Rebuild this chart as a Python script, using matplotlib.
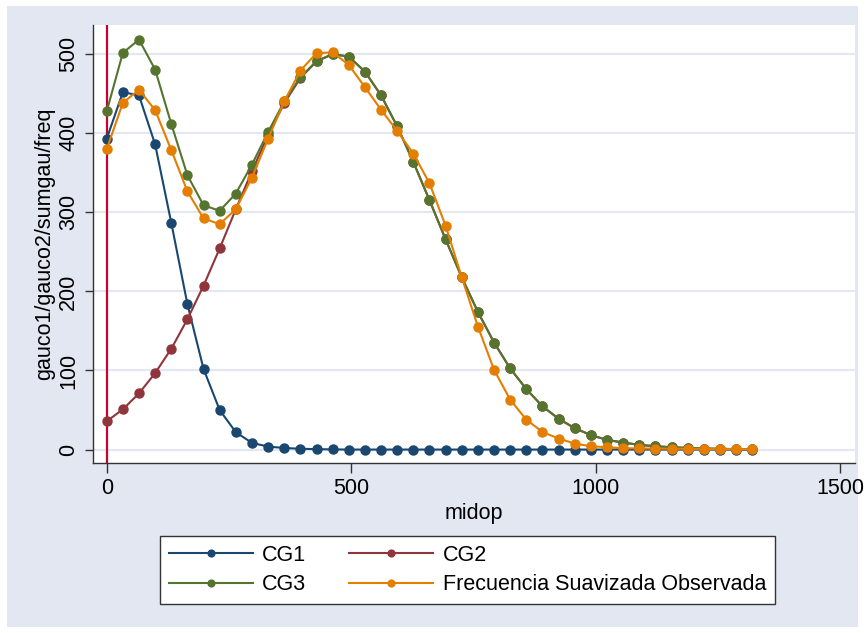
import numpy as np
import matplotlib.pyplot as plt
from matplotlib.patches import Rectangle

plt.rcParams['font.family'] = ['Liberation Sans', 'DejaVu Sans']

# midop points, step 33
midop = [0, 33, 66, 99, 132, 165, 198, 231, 264, 297, 330, 363, 396, 429, 462,
         495, 528, 561, 594, 627, 660, 693, 726, 759, 792, 825, 858, 891, 924,
         957, 990, 1023, 1056, 1089, 1122, 1155, 1188, 1221, 1254, 1287, 1320]

cg1 = [393, 452, 448, 386, 287, 184, 102, 50, 22, 8.4, 3.8, 2, 1, 0.5, 0.2,
       0, 0, 0, 0, 0, 0, 0, 0, 0, 0, 0, 0, 0, 0, 0, 0, 0, 0, 0, 0, 0, 0, 0, 0, 0, 0]
cg2 = [35.7, 50.9, 71, 96.7, 127.4, 164.8, 207.3, 254.4, 304, 352, 397.8, 438,
       470, 491, 500, 497, 478, 448, 408.7, 363.7, 315.4, 265.8, 217.8, 174,
       135.4, 102.6, 76.5, 54.7, 39, 27, 18.3, 12.2, 8.9, 5.9, 4.2, 2.9, 2,
       1.3, 0.9, 0.6, 0.4]
cg3 = [427.7, 501.7, 518.5, 480.7, 412, 347, 309, 302, 323.8, 360.4, 401.6,
       440.3, 471, 491.2, 500.4, 497, 478, 448, 408.7, 363.7, 315.4, 265.8,
       217.8, 174, 135.4, 102.6, 76.5, 54.7, 39, 27, 18.3, 12.2, 8.9, 5.9,
       4.2, 2.9, 2, 1.3, 0.9, 0.6, 0.4]
freq = [379.7, 438.6, 455, 429.4, 378.9, 326.7, 292.3, 285.1, 304, 344, 393.2,
        440.3, 479.4, 501.3, 502.5, 486.5, 458.4, 429.8, 402.9, 374.3, 336.8,
        283, 217.8, 155.6, 100.9, 63.1, 37.8, 22.3, 13.9, 7.6, 4.2, 2.9, 1.8,
        1.4, 1.2, 1, 0.9, 0.8, 0.7, 0.6, 0.5]

names = ['CG1', 'CG2', 'CG3', 'Frecuencia Suavizada Observada']
colors = ['#1a476f', '#90353b', '#55752f', '#e37e00']

fs = 15.5
bg = '#e2e7f1'
fig = plt.figure(figsize=(8.66, 6.33), dpi=100)
fig.patch.set_facecolor('white')
fig.patches.append(Rectangle((7/866, 6/633), 851/866, 621/633, transform=fig.transFigure,
                             facecolor=bg, edgecolor='none', zorder=-10))

ax = fig.add_axes([93/866, 1 - 463/633, 762/866, 438/633])
ax.set_facecolor('white')

lines = []
for ys, c, n in zip([cg1, cg2, cg3, freq], colors, names):
    l, = ax.plot(midop, ys, '-o', color=c, lw=1.5, markersize=6.5, label=n, zorder=3)
    lines.append(l)

ax.axvline(0, color='#c10534', lw=1.6, zorder=2)

ax.set_xlim(-28, 1530)
ax.set_ylim(-17, 537)
ax.set_xticks([0, 500, 1000, 1500])
ax.set_yticks([0, 100, 200, 300, 400, 500])
ax.grid(axis='y', color=bg, lw=1.5, zorder=0)
ax.set_axisbelow(True)
for s in ['top', 'right']:
    ax.spines[s].set_visible(False)
for s in ['left', 'bottom']:
    ax.spines[s].set_color('#333333')
    ax.spines[s].set_linewidth(1)
ax.tick_params(axis='x', direction='out', length=7, width=1, color='#333333',
               labelsize=fs, pad=4)
ax.tick_params(axis='y', direction='out', length=6, width=1, color='#333333',
               labelsize=fs, pad=4)
plt.setp(ax.get_yticklabels(), rotation=90, va='center')
ax.set_xlabel('midop', fontsize=fs, labelpad=3)
ax.set_ylabel('gauco1/gauco2/sumgau/freq', fontsize=fs, labelpad=2)

order = [0, 2, 1, 3]
leg = fig.legend([lines[i] for i in order], [names[i] for i in order],
                 ncol=2, loc='lower left', bbox_to_anchor=(160/866, 1 - 604/633),
                 fontsize=fs, frameon=True, fancybox=False, edgecolor='#333333',
                 framealpha=1, handlelength=3.9, handletextpad=0.45,
                 columnspacing=2.0, markerscale=0.75, borderpad=0.4,
                 borderaxespad=0, labelspacing=0.4)
leg.get_frame().set_linewidth(1)

fig.savefig('out.png', dpi=100, facecolor=fig.get_facecolor())
